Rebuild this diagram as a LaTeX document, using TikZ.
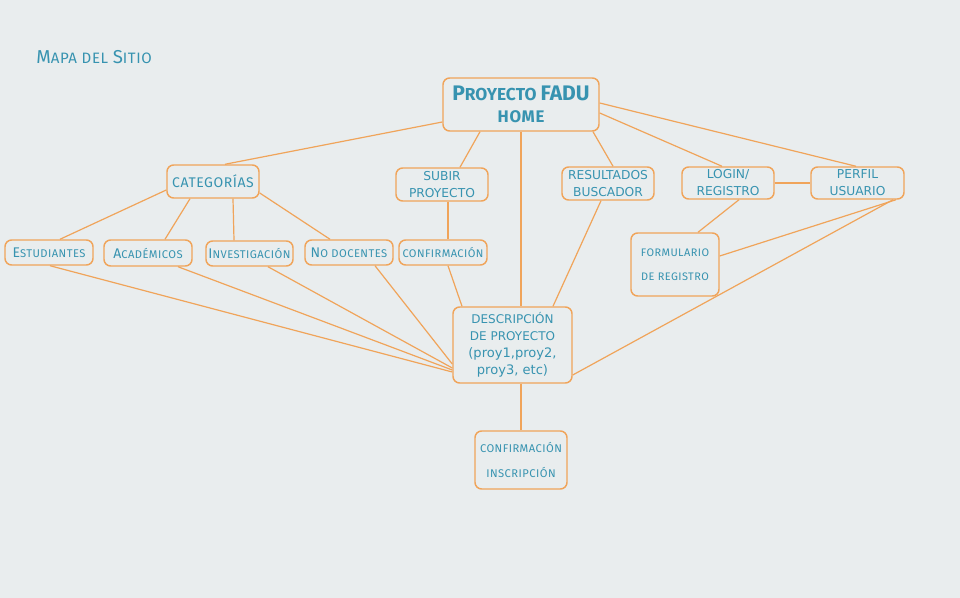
\documentclass[tikz,border=0pt]{standalone}
\usepackage{fontspec}
\setmainfont{Fira Sans}
\newfontfamily\fsp{Fira Sans}[LetterSpace=4]
\newfontfamily\dejavu{DejaVu Sans}
\newcommand{\capL}[2]{{\fontsize{#1}{#1}\selectfont #2}}
\usetikzlibrary{calc}
\definecolor{bg}{HTML}{E9EDEE}
\definecolor{tealtxt}{HTML}{3793B0}
\definecolor{orng}{HTML}{F0A45A}
\begin{document}
\begin{tikzpicture}[x=0.75pt,y=-0.75pt,
 box/.style={draw=orng, line width=1.1pt, rounded corners=5pt, fill=bg, text=tealtxt, align=center, inner sep=0pt},
 sc/.style={font=\fsp\fontsize{8.4}{12}\selectfont},
 up/.style={font=\dejavu\fontsize{9.2}{12.75}\selectfont},
 link/.style={draw=orng, line width=0.9pt}]
\fill[bg] (0,0) rectangle (960,598);
\useasboundingbox (0,0) rectangle (960,598);
\node[text=tealtxt, anchor=west, font=\fsp\fontsize{11.3}{14}\selectfont, inner sep=0pt] (title) at (36,57) {\capL{14}{M}APA DEL \capL{14}{S}ITIO};
\node[box, minimum width=117pt, minimum height=39.75pt, font=\fontsize{13}{16.5}\selectfont\bfseries] (home) at (521,104.5) {\capL{15.8}{P}ROYECTO \capL{15.8}{FADU}\\\fsp\fontsize{12.6}{16.5}\selectfont HOME};
\node[box, font=\fsp\fontsize{10.5}{12}\selectfont, minimum width=69pt, minimum height=24.75pt] (cat) at (213,181.5) {CATEGORÍAS};
\node[box, up, minimum width=69pt, minimum height=24.75pt] (subir) at (442,184.5) {SUBIR\\PROYECTO};
\node[box, up, minimum width=69pt, minimum height=24.75pt] (result) at (608,183.5) {RESULTADOS\\BUSCADOR};
\node[box, up, minimum width=69pt, minimum height=24pt] (login) at (728,183) {LOGIN/\\REGISTRO};
\node[box, up, minimum width=69.75pt, minimum height=24pt] (perfil) at (857.5,183) {PERFIL\\USUARIO};
\node[box, sc, minimum width=66pt, minimum height=18.75pt] (estud) at (49,252.5) {\capL{10.5}{E}STUDIANTES};
\node[box, sc, minimum width=66pt, minimum height=19.5pt] (acad) at (148,253) {\capL{10.5}{A}CADÉMICOS};
\node[box, sc, minimum width=65.25pt, minimum height=18.75pt] (invest) at (249.5,253.5) {\capL{10.5}{I}NVESTIGACIÓN};
\node[box, sc, minimum width=66pt, minimum height=18.75pt] (nodoc) at (349,252.5) {\capL{10.5}{N}O DOCENTES};
\node[box, font=\fsp\fontsize{8.3}{12}\selectfont, minimum width=66pt, minimum height=18.75pt] (conf) at (443,252.5) {CONFIRMACIÓN};
\node[box, font=\fsp\fontsize{8.2}{18}\selectfont, minimum width=66pt, minimum height=47.25pt] (form) at (675,264.5) {FORMULARIO\\DE REGISTRO};
\node[box, font=\dejavu\fontsize{9}{12.75}\selectfont, minimum width=89.25pt, minimum height=57pt] (desc) at (512.5,345) {DESCRIPCIÓN\\DE PROYECTO\\{\fontsize{9.8}{12.75}\selectfont(proy1,proy2,}\\{\fontsize{9.8}{12.75}\selectfont proy3, etc)}};
\node[box, font=\fsp\fontsize{8.4}{18.75}\selectfont, minimum width=69pt, minimum height=43.5pt] (confins) at (521,460) {CONFIRMACIÓN\\INSCRIPCIÓN};
% connectors
\draw[link] ($(home.west)+(0,17.5)$) -- ($(cat.north)+(12,0)$);
\draw[link] ($(home.south)+(-41,0)$) -- ($(subir.north)+(18,0)$);
\draw[link] (home.south) -- (home.south |- desc.north);
\draw[link] ($(home.south)+(72,0)$) -- ($(result.north)+(5,0)$);
\draw[link] ($(home.east)+(0,8.5)$) -- ($(login.north)+(-6,0)$);
\draw[link] ($(home.east)+(0,-1.5)$) -- ($(perfil.north)+(-1.5,0)$);
\draw[link] ($(cat.west)+(0,8.5)$) -- ($(estud.north)+(11,0)$);
\draw[link] ($(cat.south)+(-23,0)$) -- ($(acad.north)+(17,0)$);
\draw[link] ($(cat.south)+(20,0)$) -- ($(invest.north)+(-15.5,0)$);
\draw[link] ($(cat.east)+(0,11.5)$) -- ($(nodoc.north)+(-19,0)$);
\draw[link] ($(subir.south)+(6,0)$) -- ($(conf.north)+(5,0)$);
\draw[link] ($(conf.south)+(5,0)$) -- ($(desc.north)+(-50.5,0)$);
\draw[link] ($(result.south)+(-7,0)$) -- ($(desc.north)+(40.5,0)$);
\draw[link] (login.east) -- (perfil.west);
\draw[link] ($(login.south)+(11,0)$) -- ($(form.north)+(23,0)$);
\draw[link] ($(perfil.south)+(38.5,0)$) -- ($(form.east)+(0,-8.5)$);
\draw[link] ($(perfil.south)+(35.5,0)$) -- ($(desc.east)+(0,30)$);
\draw[link] ($(estud.south)+(1,0)$) -- ($(desc.west)+(0,27)$);
\draw[link] ($(acad.south)+(30,0)$) -- ($(desc.west)+(0,25)$);
\draw[link] ($(invest.south)+(18.5,0)$) -- ($(desc.west)+(0,23)$);
\draw[link] ($(nodoc.south)+(26,0)$) -- ($(desc.west)+(0,19)$);
\draw[link] ($(desc.south)+(8.5,0)$) -- (confins.north);
\end{tikzpicture}
\end{document}
